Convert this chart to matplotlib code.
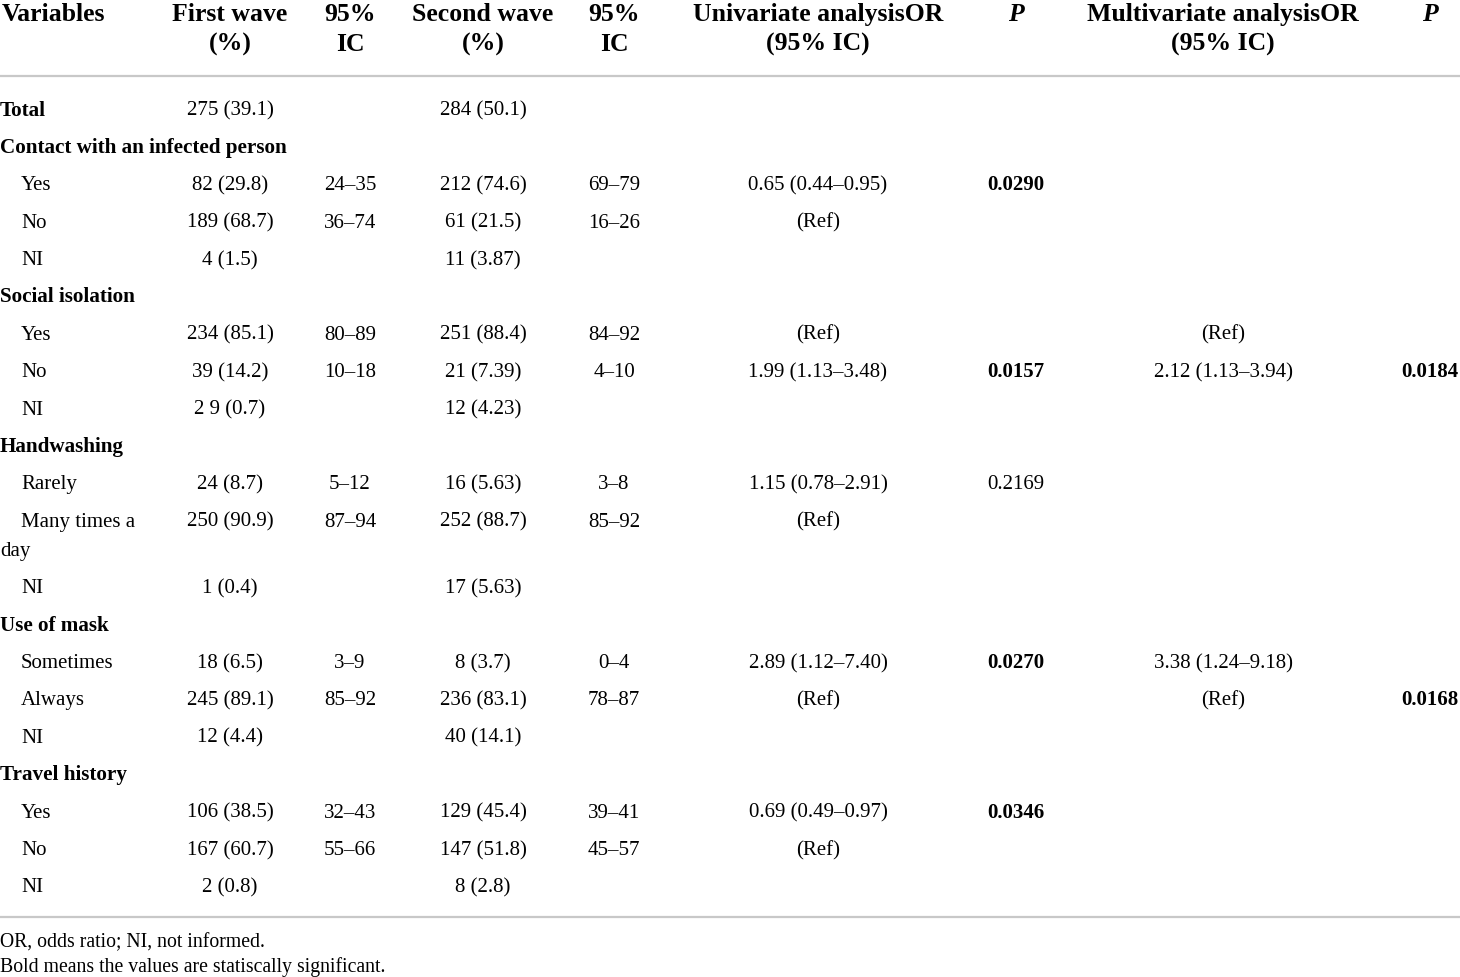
import matplotlib.pyplot as plt

# ---------------------------------------------------------
# Table: first vs second wave, univariate / multivariate OR
# ---------------------------------------------------------

headers = [["Variables", ""], ["First wave", "(%)"], ["95%", "IC"],
           ["Second wave", "(%)"], ["95%", "IC"],
           ["Univariate analysisOR", "(95% IC)"], ["P", ""],
           ["Multivariate analysisOR", "(95% IC)"], ["P", ""]]

labels = ["Total", "Contact with an infected person", "Yes", "No", "NI",
          "Social isolation", "Yes", "No", "NI",
          "Handwashing", "Rarely", "Many times a\nday", "NI",
          "Use of mask", "Sometimes", "Always", "NI",
          "Travel history", "Yes", "No", "NI"]
is_group = [True, True, False, False, False,
            True, False, False, False,
            True, False, False, False,
            True, False, False, False,
            True, False, False, False]

first_wave = ["275 (39.1)", "", "82 (29.8)", "189 (68.7)", "4 (1.5)",
              "", "234 (85.1)", "39 (14.2)", "2 9 (0.7)",
              "", "24 (8.7)", "250 (90.9)", "1 (0.4)",
              "", "18 (6.5)", "245 (89.1)", "12 (4.4)",
              "", "106 (38.5)", "167 (60.7)", "2 (0.8)"]
ic_first = ["", "", "24–35", "36–74", "",
            "", "80–89", "10–18", "",
            "", "5–12", "87–94", "",
            "", "3–9", "85–92", "",
            "", "32–43", "55–66", ""]
second_wave = ["284 (50.1)", "", "212 (74.6)", "61 (21.5)", "11 (3.87)",
               "", "251 (88.4)", "21 (7.39)", "12 (4.23)",
               "", "16 (5.63)", "252 (88.7)", "17 (5.63)",
               "", "8 (3.7)", "236 (83.1)", "40 (14.1)",
               "", "129 (45.4)", "147 (51.8)", "8 (2.8)"]
ic_second = ["", "", "69–79", "16–26", "",
             "", "84–92", "4–10", "",
             "", "3–8", "85–92", "",
             "", "0–4", "78–87", "",
             "", "39–41", "45–57", ""]
uni_or = ["", "", "0.65 (0.44–0.95)", "(Ref)", "",
          "", "(Ref)", "1.99 (1.13–3.48)", "",
          "", "1.15 (0.78–2.91)", "(Ref)", "",
          "", "2.89 (1.12–7.40)", "(Ref)", "",
          "", "0.69 (0.49–0.97)", "(Ref)", ""]
uni_p = ["", "", "0.0290", "", "",
         "", "", "0.0157", "",
         "", "0.2169", "", "",
         "", "0.0270", "", "",
         "", "0.0346", "", ""]
multi_or = ["", "", "", "", "",
            "", "(Ref)", "2.12 (1.13–3.94)", "",
            "", "", "", "",
            "", "3.38 (1.24–9.18)", "(Ref)", "",
            "", "", "", ""]
multi_p = ["", "", "", "", "",
           "", "", "0.0184", "",
           "", "", "", "",
           "", "", "0.0168", "",
           "", "", "", ""]
significant = ["0.0290", "0.0157", "0.0270", "0.0346", "0.0184", "0.0168"]

footnotes = ["OR, odds ratio; NI, not informed.",
             "Bold means the values are statiscally significant."]

# layout (pixels)
W, H = 1460, 978
col_x = [2, 230, 350, 483, 614, 818, 1016, 1223, 1430]
body_cols = [first_wave, ic_first, second_wave, ic_second, uni_or, uni_p, multi_or, multi_p]
row_step = 37.4
wrap_step = 29
body_fs = 15
group_fs = 15.2
head_fs = 18.5
base = 7          # baseline offset below row centre
font = "Liberation Serif"
rule_color = "#c8c8c8"

fig = plt.figure(figsize=(W / 100, H / 100), dpi=100)
ax = fig.add_axes([0, 0, 1, 1])
ax.set_xlim(0, W)
ax.set_ylim(H, 0)
ax.axis("off")

# header
for j, (l1, l2) in enumerate(headers):
    ha = "left" if j == 0 else "center"
    style = "italic" if l1 == "P" else "normal"
    ax.text(col_x[j], 21, l1, ha=ha, va="baseline", fontsize=head_fs,
            fontweight="bold", fontstyle=style, family=font)
    if l2:
        ax.text(col_x[j], 51, l2, ha=ha, va="baseline", fontsize=head_fs,
                fontweight="bold", family=font)

ax.plot([0, W], [77, 77], color=rule_color, lw=1.6, solid_capstyle="butt")

# body
y = 108.5
for i, lab in enumerate(labels):
    parts = lab.split("\n")
    if is_group[i]:
        ax.text(0, y + base, parts[0], ha="left", va="baseline", fontsize=group_fs,
                fontweight="bold", family=font)
    else:
        ax.text(21, y + base, parts[0], ha="left", va="baseline", fontsize=body_fs,
                family=font)
    for k, extra in enumerate(parts[1:]):
        ax.text(0, y + base + wrap_step * (k + 1), extra, ha="left", va="baseline",
                fontsize=body_fs, family=font)
    for j, col in enumerate(body_cols):
        val = col[i]
        if not val:
            continue
        weight = "bold" if val in significant else "normal"
        ax.text(col_x[j + 1], y + base, val, ha="center", va="baseline",
                fontsize=body_fs, fontweight=weight, family=font)
    y += row_step + wrap_step * (len(parts) - 1)

ax.plot([0, W], [918, 918], color=rule_color, lw=1.6, solid_capstyle="butt")

for k, note in enumerate(footnotes):
    ax.text(0, 947 + 25 * k, note, ha="left", va="baseline", fontsize=14.2, family=font)

fig.savefig("out.png", dpi=100)
